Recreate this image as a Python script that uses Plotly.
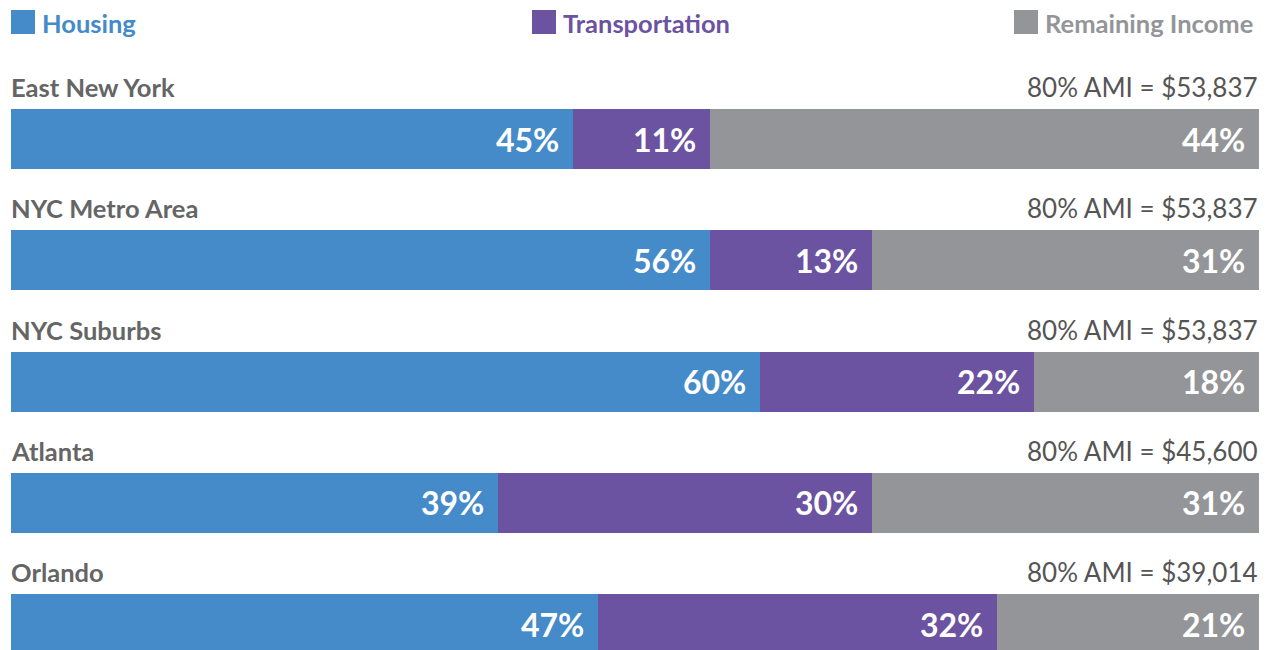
import plotly.graph_objects as go

regions = ["East New York", "NYC Metro Area", "NYC Suburbs", "Atlanta", "Orlando"]
ami_labels = ["80% AMI = $53,837", "80% AMI = $53,837", "80% AMI = $53,837",
              "80% AMI = $45,600", "80% AMI = $39,014"]
housing = [45, 56, 60, 39, 47]
transportation = [11, 13, 22, 30, 32]
remaining = [44, 31, 18, 31, 21]
series_names = ["Housing", "Transportation", "Remaining Income"]
colors = ["#458bc9", "#6b53a1", "#939598"]

OFF = 8  # page body margin
W, H = 1270 - OFF, 650 - OFF
X0, X1 = 11 - OFF, 1259 - OFF
C0, PITCH, BAR_H = 139 - OFF, 121.25, 60

ypos = list(range(len(regions)))
bar_w = BAR_H / PITCH
y_top = -C0 / PITCH
y_bot = (H - C0) / PITCH

fig = go.Figure()
series = [housing, transportation, remaining]
for name, vals, col in zip(series_names, series, colors):
    fig.add_trace(go.Bar(
        y=ypos, x=vals, orientation="h", name=name,
        marker=dict(color=col, line=dict(width=0)),
        width=bar_w, showlegend=False, hoverinfo="skip",
    ))

FONT = "Lato"
ann = []
for i, r in enumerate(regions):
    cum = 0
    for vals in series:
        cum += vals[i]
        ann.append(dict(x=cum, y=i, xref="x", yref="y", text=f"{vals[i]}%",
                        showarrow=False, xanchor="right", yanchor="middle",
                        xshift=-12, yshift=0,
                        font=dict(family=FONT, size=32, color="white", weight="bold")))
    ann.append(dict(x=0, y=i - 52 / PITCH, xref="x", yref="y", text=r,
                    showarrow=False, xanchor="left", yanchor="middle", xshift=-2,
                    font=dict(family=FONT, size=25.5, color="#656565", weight="bold")))
    ann.append(dict(x=100, y=i - 52 / PITCH, xref="x", yref="y", text=ami_labels[i],
                    showarrow=False, xanchor="right", yanchor="middle", xshift=1,
                    font=dict(family=FONT, size=26, color="#555555")))

# legend
leg_x = [11, 532, 1014]
shapes = []
for name, col, lx in zip(series_names, colors, leg_x):
    lx -= OFF
    shapes.append(dict(type="rect", xref="paper", yref="paper",
                       x0=lx / W, x1=(lx + 24) / W, y0=1 - (34 - OFF) / H, y1=1 - (10 - OFF) / H,
                       fillcolor=col, line=dict(width=0)))
    ann.append(dict(x=(lx + 30) / W, y=1 - (23 - OFF) / H, xref="paper", yref="paper",
                    text=name, showarrow=False, xanchor="left", yanchor="middle",
                    borderpad=0,
                    font=dict(family=FONT, size=25.5, color=col, weight="bold")))

fig.update_layout(
    barmode="stack",
    width=W, height=H,
    margin=dict(l=0, r=0, t=0, b=0),
    paper_bgcolor="white", plot_bgcolor="white",
    xaxis=dict(range=[0, 100], domain=[X0 / W, X1 / W], visible=False, fixedrange=True),
    yaxis=dict(range=[y_bot, y_top], domain=[0, 1], visible=False, fixedrange=True),
    annotations=ann, shapes=shapes, bargap=0,
)

fig.write_html("out.html")
